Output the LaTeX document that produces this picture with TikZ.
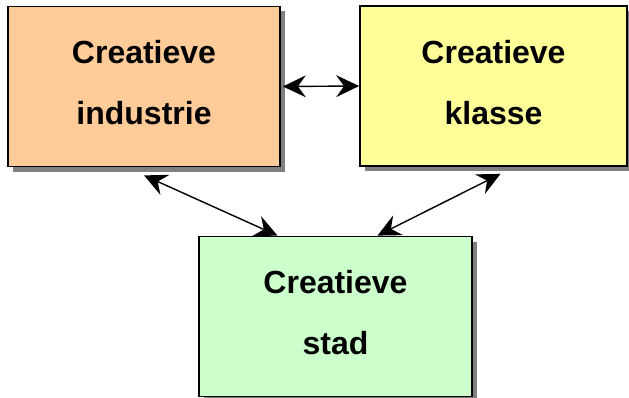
\documentclass[tikz,border=0pt]{standalone}
\usepackage{fontspec}
\setmainfont{Liberation Sans}
\usetikzlibrary{arrows.meta,shadows}

\definecolor{peach}{HTML}{FFCC99}
\definecolor{lightyellow}{HTML}{FFFF99}
\definecolor{lightgreen}{HTML}{CCFFCC}

\tikzset{
  box/.style={draw, line width=1.8pt, minimum height=160pt, inner sep=0pt,
    align=center, font=\fontsize{32}{61}\selectfont\bfseries, text depth=8pt,
    drop shadow={shadow xshift=5pt, shadow yshift=-5pt, fill=gray, opacity=1}},
  tip/.tip={Stealth[length=23pt,width=22pt,inset=8pt,line width=0pt]},
  link/.style={line width=1.4pt, tip-tip}
}

\begin{document}
\begin{tikzpicture}[x=1pt, y=1pt]
  \useasboundingbox (0,0) rectangle (629,397);

  \node[box, fill=peach, minimum width=272pt] (ind) at (144,310.5) {Creatieve\\industrie};
  \node[box, fill=lightyellow, minimum width=267pt] (kla) at (493.5,311) {Creatieve\\klasse};
  \node[box, fill=lightgreen, minimum width=273pt] (stad) at (335.5,80.5) {Creatieve\\stad};

  \draw[link] ([xshift=2pt]ind.east) -- (kla.west);
  \draw[link] ([yshift=-8pt]ind.south) -- ([xshift=-58pt]stad.north);
  \draw[link] ([xshift=7pt,yshift=-7pt]kla.south) -- ([xshift=42pt]stad.north);
\end{tikzpicture}
\end{document}
